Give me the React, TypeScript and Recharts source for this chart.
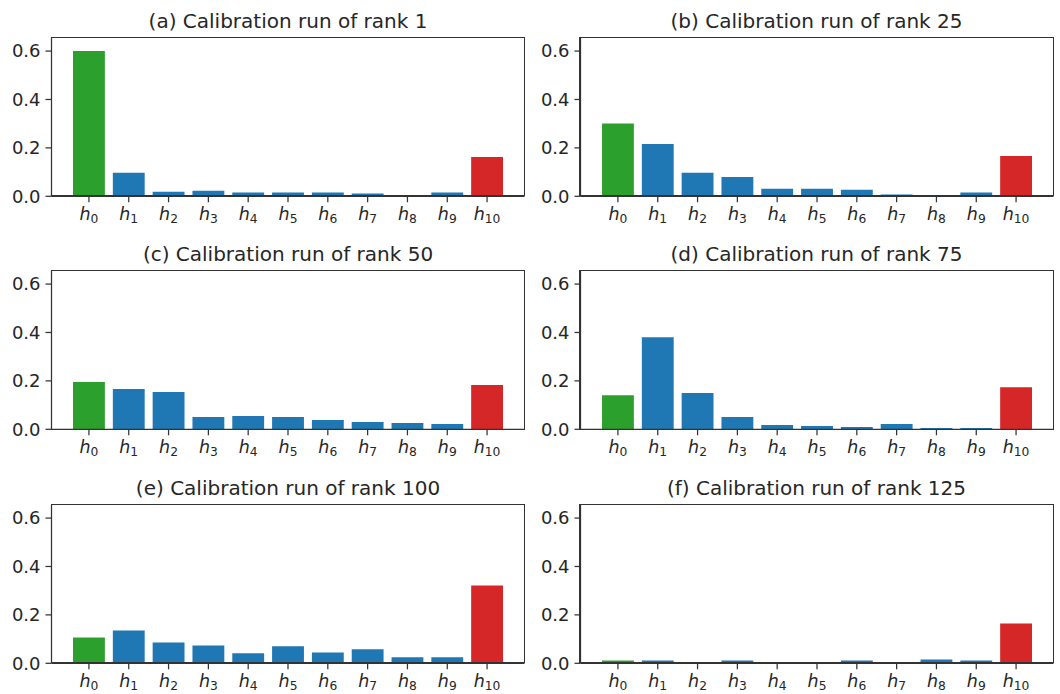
import React from 'react';
import { BarChart, Bar, XAxis, YAxis, Cell } from 'recharts';

// ---- data ----
const CATEGORIES = ['0', '1', '2', '3', '4', '5', '6', '7', '8', '9', '10'];
const RANK_1 = [0.6, 0.097, 0.019, 0.023, 0.016, 0.016, 0.016, 0.012, 0, 0.016, 0.162];
const RANK_25 = [0.301, 0.216, 0.097, 0.08, 0.031, 0.031, 0.027, 0.007, 0, 0.016, 0.166];
const RANK_50 = [0.195, 0.166, 0.154, 0.051, 0.055, 0.051, 0.038, 0.03, 0.026, 0.022, 0.183];
const RANK_75 = [0.141, 0.38, 0.15, 0.051, 0.018, 0.014, 0.01, 0.022, 0.005, 0.005, 0.174];
const RANK_100 = [0.107, 0.136, 0.086, 0.074, 0.041, 0.07, 0.045, 0.058, 0.025, 0.025, 0.321];
const RANK_125 = [0.012, 0.012, 0, 0.012, 0, 0.004, 0.012, 0, 0.016, 0.012, 0.164];
const TITLES = [
  '(a) Calibration run of rank 1',
  '(b) Calibration run of rank 25',
  '(c) Calibration run of rank 50',
  '(d) Calibration run of rank 75',
  '(e) Calibration run of rank 100',
  '(f) Calibration run of rank 125',
];
const SERIES = [RANK_1, RANK_25, RANK_50, RANK_75, RANK_100, RANK_125];
const Y_TICKS = [0, 0.2, 0.4, 0.6];
const Y_DOMAIN: [number, number] = [0, 0.654];

// ---- style / layout ----
const GREEN = '#2ca02c';
const BLUE = '#1f77b4';
const RED = '#d62728';
const INK = '#262626';
const SPINE = '#333333';
const FONT = '"DejaVu Sans", sans-serif';

const COL_PLOT_LEFT = [51.5, 580];
const ROW_PLOT_TOP = [37.5, 271, 504.5];
const PLOT_W = 473;
const PLOT_H = 158.3;
const Y_AXIS_W = 51.5;
const X_AXIS_H = 40;
const UNIT = PLOT_W / 11.88;
const X_PAD = (PLOT_W - 11 * UNIT) / 2;
const BAR_SIZE = 0.8 * UNIT;

const XTick = (props: any) => {
  const { x, y, payload } = props;
  return (
    <text x={x} y={y} textAnchor="middle" fill={INK} fontFamily={FONT}>
      <tspan fontStyle="italic" fontSize={17.5} dy={17.5}>h</tspan>
      <tspan fontSize={12.3} dy={3.5}>{payload.value}</tspan>
    </text>
  );
};

const Panel = ({ title, values, left, top }: { title: string; values: number[]; left: number; top: number }) => {
  const data = CATEGORIES.map((c, i) => ({ sub: c, value: values[i] }));
  const chartLeft = left - Y_AXIS_W;
  return (
    <>
      <div
        style={{
          position: 'absolute',
          left: left,
          width: PLOT_W,
          top: top - 10 - 17,
          textAlign: 'center',
          fontFamily: FONT,
          fontSize: 20,
          lineHeight: '20px',
          color: INK,
          whiteSpace: 'nowrap',
        }}
      >
        {title}
      </div>
      <div style={{ position: 'absolute', left: chartLeft, top: top }}>
        <BarChart
          width={Y_AXIS_W + PLOT_W + 4}
          height={PLOT_H + X_AXIS_H}
          data={data}
          margin={{ top: 0, right: 4, bottom: 0, left: 0 }}
          barCategoryGap={0}
        >
          <XAxis
            dataKey="sub"
            type="category"
            interval={0}
            padding={{ left: X_PAD, right: X_PAD }}
            height={X_AXIS_H}
            tickSize={6}
            tickMargin={0}
            tick={<XTick />}
            axisLine={{ stroke: SPINE, strokeWidth: 1.25 }}
            tickLine={{ stroke: SPINE, strokeWidth: 1.25 }}
          />
          <YAxis
            type="number"
            domain={Y_DOMAIN}
            ticks={Y_TICKS}
            allowDataOverflow
            width={Y_AXIS_W}
            tickSize={6}
            tickMargin={5}
            tickFormatter={(v: number) => v.toFixed(1)}
            tick={{ fill: INK, fontSize: 18, fontFamily: FONT }}
            axisLine={{ stroke: SPINE, strokeWidth: 1.25 }}
            tickLine={{ stroke: SPINE, strokeWidth: 1.25 }}
          />
          <Bar dataKey="value" barSize={BAR_SIZE} isAnimationActive={false}>
            {data.map((d, i) => (
              <Cell key={d.sub} fill={i === 0 ? GREEN : i === data.length - 1 ? RED : BLUE} />
            ))}
          </Bar>
        </BarChart>
      </div>
      <div
        style={{
          position: 'absolute',
          left: left - 0.6,
          top: top - 0.6,
          width: PLOT_W + 1.2,
          height: PLOT_H + 1.2,
          border: `1.25px solid ${SPINE}`,
          boxSizing: 'border-box',
          pointerEvents: 'none',
        }}
      />
    </>
  );
};

export default function App() {
  return (
    <div style={{ position: 'absolute', left: 0, top: 0, width: 1060, height: 694, background: '#fff' }}>
      {SERIES.map((values, i) => (
        <Panel
          key={TITLES[i]}
          title={TITLES[i]}
          values={values}
          left={COL_PLOT_LEFT[i % 2]}
          top={ROW_PLOT_TOP[Math.floor(i / 2)]}
        />
      ))}
    </div>
  );
}
